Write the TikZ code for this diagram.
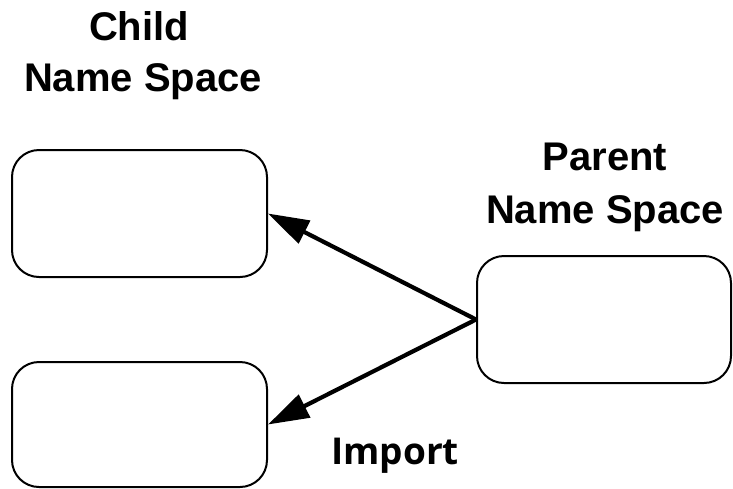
\documentclass[tikz,border=0pt]{standalone}
\usepackage{fontspec}
\setmainfont{Liberation Sans}
\newfontfamily\labelfont{Open Sans}
\usetikzlibrary{arrows.meta}
\begin{document}
\begin{tikzpicture}[x=1pt,y=-1pt,
  nsbox/.style={draw=black, line width=2pt, rounded corners=27pt,
    minimum width=255pt, minimum height=127pt, inner sep=0pt},
  title/.style={anchor=base, inner sep=0pt,
    font=\fontsize{40}{48}\selectfont\bfseries},
  link/.style={line width=4.2pt, -{Triangle[length=41pt,width=25pt]}}]
  \useasboundingbox (0,0) rectangle (733,488);

  % name space boxes
  \node[nsbox] (child1) at (139.5,213.5) {};
  \node[nsbox, minimum height=125pt] (child2) at (139.5,424.5) {};
  \node[nsbox, minimum width=254pt] (parent) at (604,319.5) {};

  % headings
  \node[title] (childA) at (139,40) {Child};
  \node[title] (childB) at (143,91) {Name Space};
  \node[title] (parentA) at (605,170) {Parent};
  \node[title] (parentB) at (605,223) {Name Space};
  \node[title, font=\fontsize{37}{44}\selectfont\labelfont\bfseries] (imp) at (395,464) {Import};

  % import links
  \draw[link] (parent.west) -- (child1.east);
  \draw[link] (parent.west) -- (child2.east);
\end{tikzpicture}
\end{document}
